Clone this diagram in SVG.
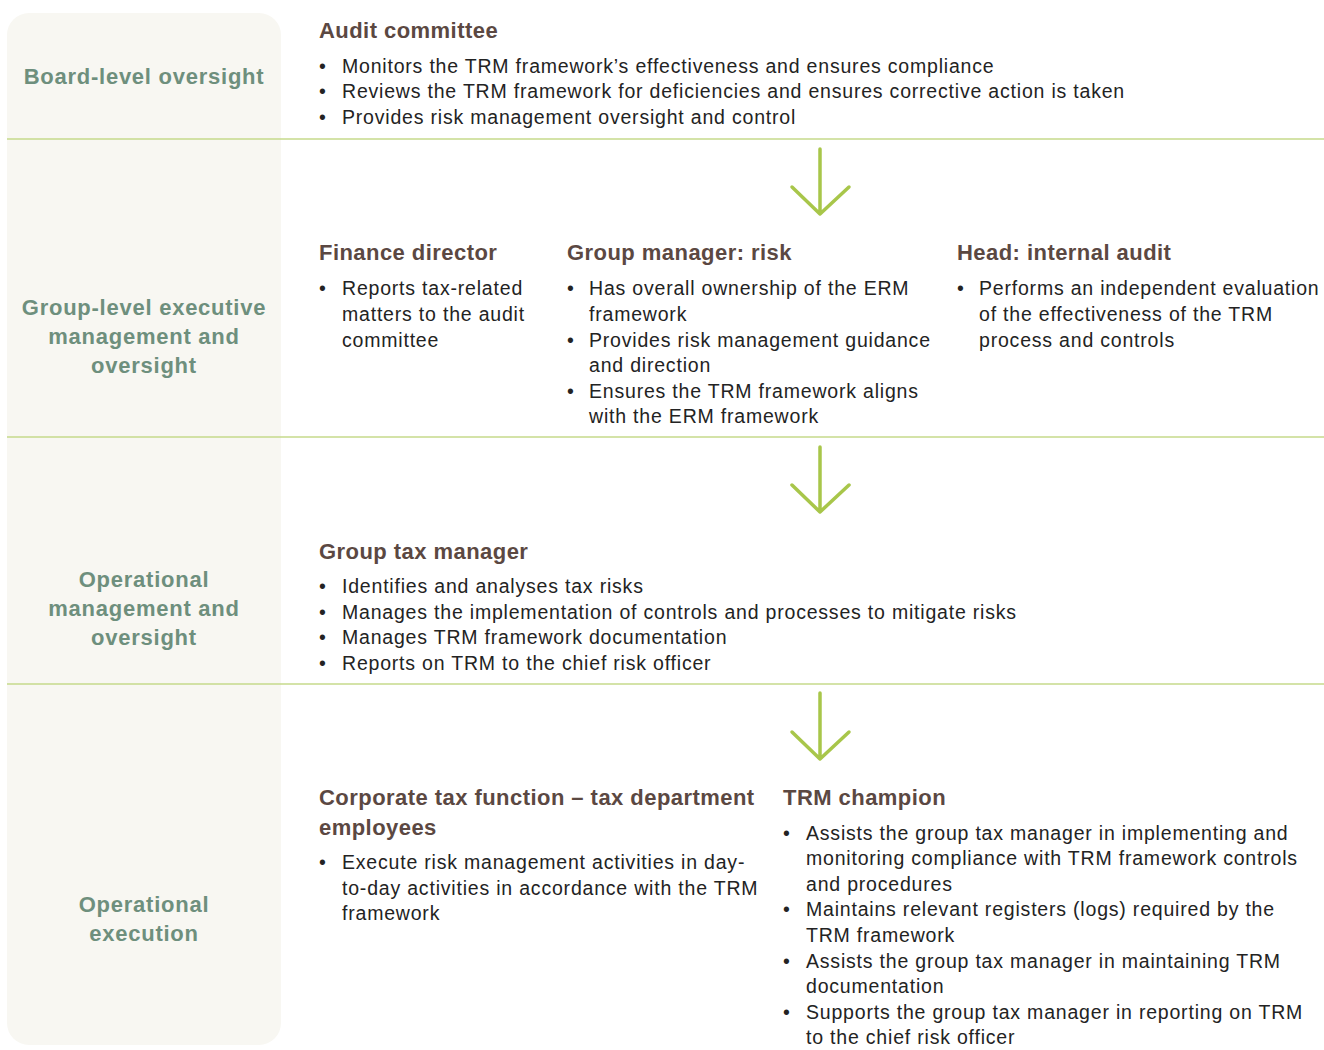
<svg xmlns="http://www.w3.org/2000/svg" width="1324" height="1050" viewBox="0 0 1324 1050">
<style>
.lbl{font-family:"Liberation Sans",Arial,sans-serif;font-size:22px;font-weight:700;fill:#6e8f7d;text-anchor:middle;letter-spacing:0.75px}
.hd{font-family:"Liberation Sans",Arial,sans-serif;font-size:22px;font-weight:700;fill:#5b4842;letter-spacing:0.45px}
.tx{font-family:"Liberation Sans",Arial,sans-serif;font-size:19.5px;fill:#232323;letter-spacing:0.8px}
.sep{stroke:#c6da8b;stroke-width:1.5}
.arr{stroke:#a8c64a;stroke-width:3.5;fill:none;stroke-linecap:round;stroke-linejoin:round}
</style>
<rect x="7" y="13" width="274" height="1032" rx="22" fill="#f8f7f2"/>
<g id="separators">
<line class="sep" x1="7" y1="139" x2="1324" y2="139"/>
<line class="sep" x1="7" y1="437" x2="1324" y2="437"/>
<line class="sep" x1="7" y1="684" x2="1324" y2="684"/>
</g>
<g id="labels">
<text class="lbl" x="144" y="84">Board-level oversight</text>
<text class="lbl" x="144" y="315">Group-level executive</text>
<text class="lbl" x="144" y="344">management and</text>
<text class="lbl" x="144" y="373">oversight</text>
<text class="lbl" x="144" y="587">Operational</text>
<text class="lbl" x="144" y="616">management and</text>
<text class="lbl" x="144" y="645">oversight</text>
<text class="lbl" x="144" y="912">Operational</text>
<text class="lbl" x="144" y="941">execution</text>
</g>
<g id="connectors">
<path class="arr" d="M820 149V214M792 187L820 214L849 187"/>
<path class="arr" d="M820 447V512M792 485L820 512L849 485"/>
<path class="arr" d="M820 693V759M792 732L820 759L849 732"/>
</g>
<g id="audit-committee">
<text class="hd" x="319" y="38">Audit committee</text>
<text class="tx" x="319" y="73">•</text><text class="tx" x="342" y="73">Monitors the TRM framework’s effectiveness and ensures compliance</text>
<text class="tx" x="319" y="98">•</text><text class="tx" x="342" y="98">Reviews the TRM framework for deficiencies and ensures corrective action is taken</text>
<text class="tx" x="319" y="124">•</text><text class="tx" x="342" y="124">Provides risk management oversight and control</text>
</g>
<g id="finance-director">
<text class="hd" x="319" y="260">Finance director</text>
<text class="tx" x="319" y="295">•</text><text class="tx" x="342" y="295">Reports tax-related</text>
<text class="tx" x="342" y="321">matters to the audit</text>
<text class="tx" x="342" y="347">committee</text>
</g>
<g id="group-manager-risk">
<text class="hd" x="567" y="260">Group manager: risk</text>
<text class="tx" x="567" y="295">•</text><text class="tx" x="589" y="295">Has overall ownership of the ERM</text>
<text class="tx" x="589" y="321">framework</text>
<text class="tx" x="567" y="347">•</text><text class="tx" x="589" y="347">Provides risk management guidance</text>
<text class="tx" x="589" y="372">and direction</text>
<text class="tx" x="567" y="398">•</text><text class="tx" x="589" y="398">Ensures the TRM framework aligns</text>
<text class="tx" x="589" y="423">with the ERM framework</text>
</g>
<g id="head-internal-audit">
<text class="hd" x="957" y="260">Head: internal audit</text>
<text class="tx" x="957" y="295">•</text><text class="tx" x="979" y="295">Performs an independent evaluation</text>
<text class="tx" x="979" y="321">of the effectiveness of the TRM</text>
<text class="tx" x="979" y="347">process and controls</text>
</g>
<g id="group-tax-manager">
<text class="hd" x="319" y="559">Group tax manager</text>
<text class="tx" x="319" y="593">•</text><text class="tx" x="342" y="593">Identifies and analyses tax risks</text>
<text class="tx" x="319" y="619">•</text><text class="tx" x="342" y="619">Manages the implementation of controls and processes to mitigate risks</text>
<text class="tx" x="319" y="644">•</text><text class="tx" x="342" y="644">Manages TRM framework documentation</text>
<text class="tx" x="319" y="670">•</text><text class="tx" x="342" y="670">Reports on TRM to the chief risk officer</text>
</g>
<g id="corporate-tax-function">
<text class="hd" x="319" y="805">Corporate tax function – tax department</text>
<text class="hd" x="319" y="835">employees</text>
<text class="tx" x="319" y="869">•</text><text class="tx" x="342" y="869">Execute risk management activities in day-</text>
<text class="tx" x="342" y="895">to-day activities in accordance with the TRM</text>
<text class="tx" x="342" y="920">framework</text>
</g>
<g id="trm-champion">
<text class="hd" x="783" y="805">TRM champion</text>
<text class="tx" x="783" y="840">•</text><text class="tx" x="806" y="840">Assists the group tax manager in implementing and</text>
<text class="tx" x="806" y="865">monitoring compliance with TRM framework controls</text>
<text class="tx" x="806" y="891">and procedures</text>
<text class="tx" x="783" y="916">•</text><text class="tx" x="806" y="916">Maintains relevant registers (logs) required by the</text>
<text class="tx" x="806" y="942">TRM framework</text>
<text class="tx" x="783" y="968">•</text><text class="tx" x="806" y="968">Assists the group tax manager in maintaining TRM</text>
<text class="tx" x="806" y="993">documentation</text>
<text class="tx" x="783" y="1019">•</text><text class="tx" x="806" y="1019">Supports the group tax manager in reporting on TRM</text>
<text class="tx" x="806" y="1044">to the chief risk officer</text>
</g>
</svg>
